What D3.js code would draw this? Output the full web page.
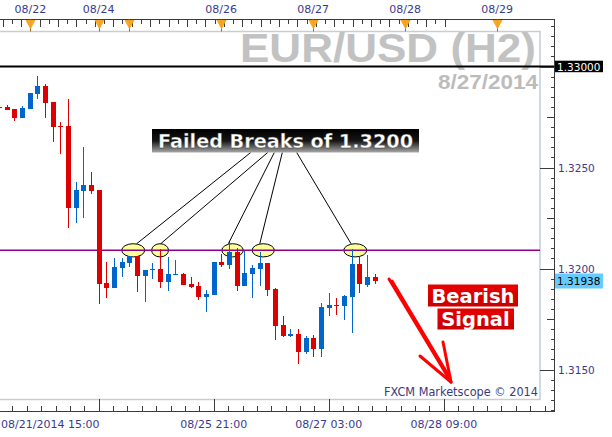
<!DOCTYPE html>
<html><head><meta charset="utf-8">
<script src="https://cdn.jsdelivr.net/npm/d3@7"></script>
<style>html,body{margin:0;padding:0;background:#fff;} svg{display:block;}</style>
</head><body>
<svg id="chart" width="612" height="437"></svg>
<script>
// ---- DATA (EUR/USD H2 candles) ----
const opens  = [1.32800,1.32800,1.32790,1.32747,1.32791,1.32865,1.32903,1.32824,1.32705,1.32705,
                1.32301,1.32385,1.32413,1.32389,1.31928,1.31905,1.32004,1.32029,1.32063,1.31964,
                1.31991,1.31999,1.31935,1.31969,1.31973,1.31923,1.31913,1.31861,1.31869,1.32032,
                1.32019,1.32080,1.31913,1.31973,1.31999,1.32027,1.31900,1.31720,1.31667,1.31676,
                1.31585,1.31656,1.31602,1.31806,1.31819,1.31816,1.31861,1.32022,1.31918,1.31960];
const highs  = [1.32802,1.32809,1.32790,1.32804,1.32870,1.32953,1.32913,1.32824,1.32725,1.32841,
                1.32430,1.32603,1.32478,1.32389,1.32034,1.32054,1.32054,1.32063,1.32063,1.31995,
                1.32027,1.32097,1.32056,1.32042,1.31978,1.31960,1.31935,1.31894,1.32032,1.32072,
                1.32138,1.32102,1.32088,1.32017,1.32080,1.32027,1.31905,1.31765,1.31699,1.31701,
                1.31666,1.31672,1.31831,1.31879,1.31856,1.31869,1.32097,1.32059,1.32067,1.31971];
const lows   = [1.32796,1.32786,1.32732,1.32747,1.32790,1.32841,1.32747,1.32628,1.32567,1.32202,
                1.32227,1.32252,1.32369,1.31822,1.31853,1.31905,1.31960,1.32009,1.31885,1.31836,
                1.31947,1.31905,1.31889,1.31969,1.31918,1.31902,1.31846,1.31786,1.31869,1.32009,
                1.31996,1.31890,1.31913,1.31856,1.31913,1.31865,1.31645,1.31662,1.31660,1.31526,
                1.31577,1.31563,1.31561,1.31765,1.31770,1.31745,1.31682,1.31880,1.31909,1.31923];
const closes = [1.32796,1.32786,1.32747,1.32795,1.32869,1.32903,1.32821,1.32702,1.32701,1.32301,
                1.32389,1.32413,1.32385,1.31925,1.31905,1.32008,1.32034,1.32063,1.31964,1.31993,
                1.31999,1.31935,1.31973,1.31973,1.31918,1.31910,1.31859,1.31872,1.32032,1.32019,
                1.32080,1.31913,1.31976,1.32003,1.32027,1.31895,1.31717,1.31667,1.31676,1.31588,
                1.31656,1.31602,1.31810,1.31819,1.31814,1.31864,1.32022,1.31922,1.31960,1.31938];

const priceTicks = [1.3150, 1.3200, 1.3250];
const topDayIdx = [4.1, 13, 16.95, 28.95, 40.95, 52.95, 64.95];
const topDayLabels = ["08/22", "08/24", "", "08/26", "08/27", "08/28", "08/29"];
const bottomMajorIdx = [13, 28, 43, 58];
const bottomLabels = ["", "08/25 21:00", "08/27 03:00", "08/28 09:00"];
const firstLabel = "08/21/2014 15:00";
const resistance = 1.3209;
const refLevel = 1.3300;
const lastPrice = 1.31938;
const breakIdx = [17.5, 21.0, 30.45, 34.45, 46.45];
const breakHalfW = [1.5, 1.1, 1.4, 1.45, 1.5];
const breakLineEndIdx = [17.95, 21.08, 29.9, 34.0, 45.9];
const breakLineStartX = [250.7, 267.7, 274.3, 282.3, 296.7];

// ---- SCALES ----
const svg = d3.select("#chart");
const step = 7.67;
const x = d3.scaleLinear().domain([0, 49]).range([-1, -1 + step * 49]);
const y = d3.scaleLinear().domain([1.3150, 1.3300]).range([369.5, 66.5]);
const axisX = 554.5, topY = 19.5, botY = 411.5, frameR = 540;
const navy = "#3a3a8c", axisCol = "#3c3c3c";
const UP = "#0066cc", DN = "#dd0000";

const defs = svg.append("defs");
const lg = defs.append("linearGradient").attr("id","lab").attr("x1",0).attr("y1",0).attr("x2",0).attr("y2",1);
lg.append("stop").attr("offset","0").attr("stop-color","#000");
lg.append("stop").attr("offset","0.5").attr("stop-color","#151515");
lg.append("stop").attr("offset","1").attr("stop-color","#a8a8a8");
const rg = defs.append("linearGradient").attr("id","red").attr("x1",0).attr("y1",0).attr("x2",0).attr("y2",1);
rg.append("stop").attr("offset","0").attr("stop-color","#e80000");
rg.append("stop").attr("offset","1").attr("stop-color","#c80000");

svg.append("rect").attr("width",612).attr("height",437).attr("fill","#fff");

// inner frame
svg.append("rect").attr("x",-1.5).attr("y",31.5).attr("width",frameR+1.5).attr("height",368)
  .attr("fill","none").attr("stroke","#c5cdd8").attr("stroke-width",1.5);

// title
svg.append("text").attr("x",240).attr("y",62).attr("textLength",296).attr("lengthAdjust","spacingAndGlyphs")
  .attr("font-family","Liberation Sans, Arial, sans-serif").attr("font-weight","bold").attr("font-size",40)
  .attr("fill","#c2c2c2").text("EUR/USD (H2)");
svg.append("text").attr("x",438).attr("y",88.5).attr("textLength",100).attr("lengthAdjust","spacingAndGlyphs")
  .attr("font-family","Liberation Sans, Arial, sans-serif").attr("font-weight","bold").attr("font-size",21)
  .attr("fill","#bcbcbc").text("8/27/2014");

// 1.3300 reference line
svg.append("line").attr("x1",0).attr("x2",axisX).attr("y1",y(refLevel)).attr("y2",y(refLevel))
  .attr("stroke","#000").attr("stroke-width",2);

// ellipses
svg.selectAll("ellipse.brk").data(breakIdx).join("ellipse")
  .attr("cx",d=>x(d)).attr("cy",y(resistance)).attr("rx",(d,i)=>breakHalfW[i]*step).attr("ry",6.6)
  .attr("fill","#ffff99").attr("stroke","#000").attr("stroke-width",1);

// resistance line
svg.append("line").attr("x1",0).attr("x2",frameR).attr("y1",y(resistance)).attr("y2",y(resistance))
  .attr("stroke","#8b008b").attr("stroke-width",1.5);

// candles
const candles = d3.range(opens.length).map(i=>({i,o:opens[i],h:highs[i],l:lows[i],c:closes[i]}));
const cg = svg.append("g").attr("shape-rendering","crispEdges");
cg.selectAll("line").data(candles).join("line")
  .attr("x1",d=>Math.round(x(d.i))+0.5).attr("x2",d=>Math.round(x(d.i))+0.5)
  .attr("y1",d=>y(d.h)).attr("y2",d=>y(d.l))
  .attr("stroke",d=>d.c>=d.o?UP:DN).attr("stroke-width",1);
cg.selectAll("rect").data(candles).join("rect")
  .attr("x",d=>Math.round(x(d.i))-2).attr("width",5)
  .attr("y",d=>y(Math.max(d.o,d.c)))
  .attr("height",d=>Math.max(1.2, Math.abs(y(d.o)-y(d.c))))
  .attr("fill",d=>d.c>=d.o?UP:DN);

// pointer lines
svg.selectAll("line.ptr").data(breakIdx).join("line")
  .attr("x1",(d,i)=>breakLineStartX[i]).attr("y1",152.5)
  .attr("x2",(d,i)=>x(breakLineEndIdx[i])).attr("y2",y(resistance)-6.6)
  .attr("stroke","#000").attr("stroke-width",1);

// label
svg.append("rect").attr("x",152).attr("y",129).attr("width",267).attr("height",23.5).attr("fill","url(#lab)");
svg.append("text").attr("x",158).attr("y",147.5).attr("textLength",255).attr("lengthAdjust","spacingAndGlyphs")
  .attr("font-family","DejaVu Sans, Verdana, sans-serif").attr("font-weight","bold").attr("font-size",19)
  .attr("fill","#fff").attr("stroke","#333").attr("stroke-width",0.3).text("Failed Breaks of 1.3200");

// bearish signal
svg.append("rect").attr("x",428).attr("y",284.5).attr("width",90).attr("height",22).attr("fill","url(#red)");
svg.append("rect").attr("x",437.5).attr("y",308.5).attr("width",76.5).attr("height",21).attr("fill","url(#red)");
svg.append("text").attr("x",473).attr("y",303).attr("text-anchor","middle")
  .attr("font-family","DejaVu Sans, Verdana, sans-serif").attr("font-weight","bold").attr("font-size",19.5)
  .attr("fill","#fff").text("Bearish");
svg.append("text").attr("x",475.5).attr("y",325.5).attr("text-anchor","middle")
  .attr("font-family","DejaVu Sans, Verdana, sans-serif").attr("font-weight","bold").attr("font-size",19.5)
  .attr("fill","#fff").text("Signal");

// arrow
const arrow = svg.append("g").attr("stroke","#ff0000").attr("stroke-width",3).attr("stroke-linecap","round").attr("fill","none");
arrow.append("path").attr("d","M389,279 L451,382");
arrow.append("path").attr("d","M392,281 L450,378");
arrow.append("path").attr("d","M451,382 L443,342");
arrow.append("path").attr("d","M451,382 L420,356");

// watermark
svg.append("text").attr("x",384).attr("y",396).attr("textLength",154).attr("lengthAdjust","spacingAndGlyphs")
  .attr("font-family","DejaVu Sans, Verdana, sans-serif").attr("font-size",11.5)
  .attr("fill","#3a3a7a").text("FXCM Marketscope \u00A9 2014");

// ---- AXES ----
const ax = svg.append("g").attr("shape-rendering","crispEdges");
ax.append("line").attr("x1",0).attr("x2",axisX).attr("y1",topY).attr("y2",topY).attr("stroke",axisCol);
ax.append("line").attr("x1",0).attr("x2",axisX).attr("y1",botY).attr("y2",botY).attr("stroke",axisCol);
ax.append("line").attr("x1",axisX).attr("x2",axisX).attr("y1",topY).attr("y2",botY).attr("stroke",axisCol);

// right axis ticks (pointing into the plot)
const pMin = y.invert(botY), pMax = y.invert(topY);
const allP = d3.range(Math.ceil(pMin/0.0005), Math.floor(pMax/0.0005)+1).map(k=>+(k*0.0005).toFixed(4));
const isMajor = p => Math.abs(p/0.005 - Math.round(p/0.005)) < 1e-6;
const isMid = p => !isMajor(p) && Math.abs(p/0.0025 - Math.round(p/0.0025)) < 1e-6;
const rAxis = (vals, size) => ax.append("g").attr("transform",`translate(${axisX},0)`)
  .call(d3.axisRight(y).tickValues(vals).tickSize(-size).tickFormat(""))
  .call(g=>g.select(".domain").remove()).call(g=>g.selectAll("line").attr("stroke",axisCol));
rAxis(allP.filter(p=>!isMajor(p)&&!isMid(p)), 4);
rAxis(allP.filter(isMid), 8);
rAxis(allP.filter(isMajor), 14.5);
svg.selectAll("text.pt").data(priceTicks).join("text")
  .attr("x",558).attr("y",d=>y(d)+4).attr("font-family","DejaVu Sans, Verdana, sans-serif").attr("font-size",10.5)
  .attr("fill",navy).text(d=>d.toFixed(4));

// price tags
svg.append("rect").attr("x",555).attr("y",y(refLevel)-5.8).attr("width",48).attr("height",11.5).attr("fill","#000");
svg.append("text").attr("x",557).attr("y",y(refLevel)+4.2).attr("font-family","DejaVu Sans, Verdana, sans-serif")
  .attr("font-size",10.5).attr("fill","#fff").text(refLevel.toFixed(5));
svg.append("rect").attr("x",555).attr("y",y(lastPrice)-7.5).attr("width",48).attr("height",15).attr("fill","#66ccff");
svg.append("text").attr("x",557).attr("y",y(lastPrice)+4.2).attr("font-family","DejaVu Sans, Verdana, sans-serif")
  .attr("font-size",10.5).attr("fill","#000").text(lastPrice.toFixed(5));

// bottom axis ticks (pointing up)
const bMinor = d3.range(-8, 40).map(k=>13 + k*1.875).filter(v=>x(v)>=0 && x(v)<=axisX-2);
ax.append("g").attr("transform",`translate(0,${botY})`)
  .call(d3.axisBottom(x).tickValues(bMinor).tickSize(-6).tickFormat(""))
  .call(g=>g.select(".domain").remove()).call(g=>g.selectAll("line").attr("stroke",axisCol));
ax.append("g").attr("transform",`translate(0,${botY})`)
  .call(d3.axisBottom(x).tickValues(bottomMajorIdx).tickSize(-13).tickFormat(""))
  .call(g=>g.select(".domain").remove()).call(g=>g.selectAll("line").attr("stroke",axisCol));
svg.selectAll("text.bl").data(bottomMajorIdx).join("text")
  .attr("x",d=>x(d)).attr("y",428).attr("text-anchor","middle")
  .attr("font-family","DejaVu Sans, Verdana, sans-serif").attr("font-size",11).attr("fill",navy)
  .text((d,i)=>bottomLabels[i]);
svg.append("text").attr("x",1).attr("y",428).attr("font-family","DejaVu Sans, Verdana, sans-serif")
  .attr("font-size",11).attr("fill",navy).text(firstLabel);

// top axis ticks (pointing down)
const tMinor = d3.range(-3, 46).map(k=>4.1 + k*1.2).filter(v=>x(v)>=0 && x(v)<=axisX-2);
ax.append("g").attr("transform",`translate(0,${topY})`)
  .call(d3.axisTop(x).tickValues(tMinor.filter((d,i)=>i%2===0)).tickSize(-7).tickFormat(""))
  .call(g=>g.select(".domain").remove()).call(g=>g.selectAll("line").attr("stroke",axisCol));
ax.append("g").attr("transform",`translate(0,${topY})`)
  .call(d3.axisTop(x).tickValues(tMinor.filter((d,i)=>i%2===1)).tickSize(-4).tickFormat(""))
  .call(g=>g.select(".domain").remove()).call(g=>g.selectAll("line").attr("stroke",axisCol));
svg.selectAll("line.trl").data(topDayIdx).join("line")
  .attr("x1",d=>Math.round(x(d))+0.5).attr("x2",d=>Math.round(x(d))+0.5)
  .attr("y1",topY).attr("y2",topY+12).attr("stroke","#8a6a30").attr("stroke-width",1);
svg.selectAll("path.tri").data(topDayIdx).join("path")
  .attr("d",d=>{const c=Math.round(x(d))+0.5; return `M${c-5},${topY+0.5} L${c+5},${topY+0.5} L${c},${topY+10} Z`;})
  .attr("fill","#f7a21b").attr("fill-opacity",0.95);
svg.selectAll("text.tl").data(topDayIdx).join("text")
  .attr("x",d=>x(d)).attr("y",13).attr("text-anchor","middle")
  .attr("font-family","DejaVu Sans, Verdana, sans-serif").attr("font-size",11).attr("fill",navy)
  .text((d,i)=>topDayLabels[i]);
</script>
</body></html>
